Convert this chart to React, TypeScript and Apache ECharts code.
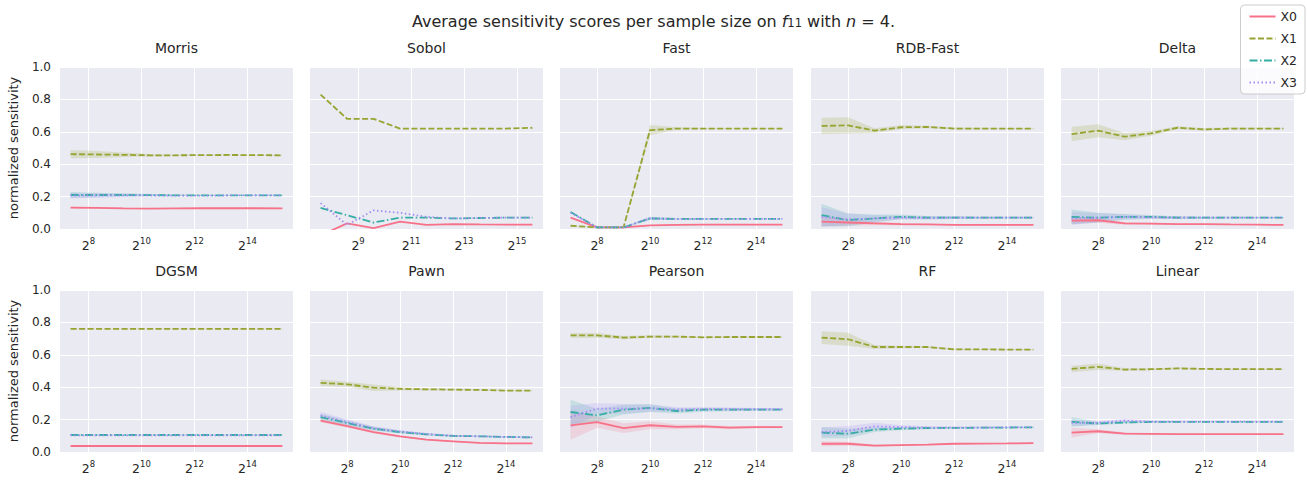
import React, { useEffect, useRef } from "react";
import * as echarts from "echarts";

// ---------- data ----------
const VARS = ["X0", "X1", "X2", "X3"];
const COLORS = ["#f77189", "#97a431", "#36ada4", "#a48cf4"];

const SIZES_STANDARD = [128, 256, 512, 1024, 2048, 4096, 8192, 16384, 32768];
const SIZES_MORRIS = [160, 320, 640, 1280, 2560, 5120, 10240, 20480, 40960];
const SIZES_SOBOL = [192, 384, 768, 1536, 3072, 6144, 12288, 24576, 49152];
const TICKS_EVEN = [8, 10, 12, 14];
const TICKS_ODD = [9, 11, 13, 15];

const METHODS = ["Morris", "Sobol", "Fast", "RDB-Fast", "Delta", "DGSM", "Pawn", "Pearson", "RF", "Linear"];

const MORRIS_MEAN = [
  [0.132, 0.13, 0.127, 0.126, 0.127, 0.128, 0.128, 0.128, 0.127],
  [0.462, 0.46, 0.458, 0.455, 0.455, 0.456, 0.457, 0.456, 0.455],
  [0.21, 0.21, 0.21, 0.209, 0.208, 0.207, 0.207, 0.208, 0.208],
  [0.206, 0.207, 0.207, 0.207, 0.206, 0.206, 0.207, 0.207, 0.207],
];
const MORRIS_CI = [
  [0.006, 0.005, 0.004, 0.003, 0.002, 0.002, 0.002, 0.002, 0.002],
  [0.026, 0.022, 0.014, 0.008, 0.005, 0.004, 0.003, 0.003, 0.003],
  [0.018, 0.014, 0.01, 0.007, 0.005, 0.004, 0.003, 0.003, 0.003],
  [0.018, 0.014, 0.01, 0.007, 0.005, 0.004, 0.003, 0.003, 0.003],
];

const SOBOL_MEAN = [
  [-0.04, 0.035, 0.005, 0.045, 0.025, 0.03, 0.028, 0.027, 0.027],
  [0.83, 0.68, 0.68, 0.62, 0.62, 0.62, 0.62, 0.62, 0.625],
  [0.13, 0.085, 0.04, 0.07, 0.07, 0.065, 0.068, 0.07, 0.07],
  [0.16, 0.025, 0.115, 0.1, 0.075, 0.065, 0.068, 0.07, 0.07],
];
const SOBOL_CI = [
  [0, 0, 0, 0, 0, 0, 0, 0, 0],
  [0, 0, 0, 0, 0, 0, 0, 0, 0],
  [0, 0, 0, 0, 0, 0, 0, 0, 0],
  [0, 0, 0, 0, 0, 0, 0, 0, 0],
];

const FAST_MEAN = [
  [0.07, 0.01, 0.01, 0.022, 0.025, 0.027, 0.027, 0.027, 0.027],
  [0.02, 0.01, 0.01, 0.61, 0.62, 0.62, 0.62, 0.62, 0.62],
  [0.105, 0.01, 0.01, 0.065, 0.062, 0.062, 0.062, 0.062, 0.062],
  [0.1, 0.01, 0.01, 0.066, 0.061, 0.062, 0.062, 0.062, 0.062],
];
const FAST_CI = [
  [0.004, 0.002, 0.002, 0.003, 0.002, 0.002, 0.002, 0.002, 0.002],
  [0.003, 0.002, 0.002, 0.032, 0.008, 0.003, 0.002, 0.002, 0.002],
  [0.005, 0.002, 0.002, 0.01, 0.004, 0.003, 0.002, 0.002, 0.002],
  [0.005, 0.002, 0.002, 0.01, 0.004, 0.003, 0.002, 0.002, 0.002],
];

const RDBFAST_MEAN = [
  [0.045, 0.04, 0.035, 0.03, 0.028, 0.026, 0.025, 0.025, 0.025],
  [0.636, 0.64, 0.607, 0.628, 0.63, 0.62, 0.62, 0.62, 0.62],
  [0.086, 0.055, 0.065, 0.075, 0.07, 0.07, 0.07, 0.07, 0.07],
  [0.075, 0.06, 0.065, 0.07, 0.068, 0.07, 0.07, 0.07, 0.07],
];
const RDBFAST_CI = [
  [0.03, 0.02, 0.012, 0.008, 0.005, 0.004, 0.003, 0.003, 0.003],
  [0.05, 0.05, 0.015, 0.012, 0.008, 0.006, 0.005, 0.004, 0.004],
  [0.07, 0.04, 0.025, 0.015, 0.01, 0.008, 0.006, 0.005, 0.005],
  [0.06, 0.035, 0.02, 0.012, 0.01, 0.008, 0.006, 0.005, 0.005],
];

const DELTA_MEAN = [
  [0.052, 0.054, 0.035, 0.033, 0.03, 0.03, 0.028, 0.027, 0.025],
  [0.586, 0.607, 0.57, 0.59, 0.625, 0.615, 0.62, 0.62, 0.62],
  [0.075, 0.07, 0.075, 0.075, 0.07, 0.07, 0.07, 0.07, 0.07],
  [0.065, 0.07, 0.075, 0.072, 0.07, 0.07, 0.07, 0.07, 0.07],
];
const DELTA_CI = [
  [0.02, 0.015, 0.008, 0.006, 0.005, 0.004, 0.003, 0.003, 0.003],
  [0.045, 0.04, 0.022, 0.015, 0.01, 0.008, 0.006, 0.005, 0.005],
  [0.045, 0.03, 0.018, 0.012, 0.008, 0.006, 0.005, 0.004, 0.004],
  [0.04, 0.028, 0.016, 0.01, 0.008, 0.006, 0.005, 0.004, 0.004],
];

const DGSM_MEAN = [
  [0.037, 0.037, 0.037, 0.037, 0.037, 0.037, 0.037, 0.037, 0.037],
  [0.76, 0.76, 0.76, 0.76, 0.76, 0.76, 0.76, 0.76, 0.76],
  [0.105, 0.105, 0.105, 0.105, 0.105, 0.105, 0.105, 0.105, 0.105],
  [0.103, 0.103, 0.103, 0.103, 0.103, 0.103, 0.103, 0.103, 0.103],
];
const DGSM_CI = [
  [0.002, 0.002, 0.002, 0.002, 0.002, 0.002, 0.002, 0.002, 0.002],
  [0.002, 0.002, 0.002, 0.002, 0.002, 0.002, 0.002, 0.002, 0.002],
  [0.003, 0.003, 0.003, 0.003, 0.003, 0.003, 0.003, 0.003, 0.003],
  [0.003, 0.003, 0.003, 0.003, 0.003, 0.003, 0.003, 0.003, 0.003],
];

const PAWN_MEAN = [
  [0.193, 0.16, 0.123, 0.097, 0.076, 0.066, 0.056, 0.053, 0.053],
  [0.427, 0.418, 0.397, 0.39, 0.387, 0.385, 0.383, 0.379, 0.379],
  [0.216, 0.179, 0.144, 0.123, 0.109, 0.099, 0.097, 0.093, 0.09],
  [0.225, 0.185, 0.147, 0.126, 0.111, 0.1, 0.097, 0.093, 0.09],
];
const PAWN_CI = [
  [0.01, 0.009, 0.008, 0.006, 0.005, 0.004, 0.003, 0.003, 0.003],
  [0.02, 0.015, 0.02, 0.01, 0.007, 0.005, 0.004, 0.004, 0.004],
  [0.02, 0.016, 0.012, 0.009, 0.007, 0.005, 0.004, 0.004, 0.004],
  [0.022, 0.017, 0.012, 0.009, 0.007, 0.005, 0.004, 0.004, 0.004],
];

const PEARSON_MEAN = [
  [0.165, 0.185, 0.148, 0.165, 0.155, 0.158, 0.15, 0.154, 0.154],
  [0.72, 0.72, 0.706, 0.712, 0.712, 0.708, 0.71, 0.71, 0.71],
  [0.247, 0.226, 0.261, 0.272, 0.253, 0.261, 0.261, 0.262, 0.262],
  [0.216, 0.268, 0.267, 0.27, 0.262, 0.265, 0.264, 0.264, 0.264],
];
const PEARSON_CI = [
  [0.09, 0.035, 0.03, 0.025, 0.015, 0.012, 0.01, 0.008, 0.006],
  [0.015, 0.015, 0.01, 0.008, 0.006, 0.005, 0.004, 0.004, 0.004],
  [0.075, 0.04, 0.03, 0.025, 0.015, 0.012, 0.01, 0.008, 0.006],
  [0.07, 0.035, 0.03, 0.022, 0.014, 0.012, 0.01, 0.008, 0.006],
];

const RF_MEAN = [
  [0.051, 0.051, 0.039, 0.043, 0.045, 0.051, 0.052, 0.053, 0.055],
  [0.706, 0.696, 0.648, 0.648, 0.648, 0.634, 0.634, 0.632, 0.632],
  [0.119, 0.113, 0.138, 0.144, 0.148, 0.149, 0.15, 0.151, 0.152],
  [0.123, 0.13, 0.158, 0.154, 0.151, 0.151, 0.151, 0.152, 0.152],
];
const RF_CI = [
  [0.015, 0.012, 0.006, 0.005, 0.004, 0.003, 0.003, 0.003, 0.003],
  [0.04, 0.04, 0.012, 0.008, 0.006, 0.005, 0.004, 0.004, 0.004],
  [0.035, 0.03, 0.015, 0.01, 0.007, 0.005, 0.004, 0.004, 0.004],
  [0.03, 0.03, 0.022, 0.012, 0.008, 0.006, 0.005, 0.004, 0.004],
];

const LINEAR_MEAN = [
  [0.12, 0.128, 0.114, 0.112, 0.11, 0.11, 0.11, 0.11, 0.11],
  [0.513, 0.526, 0.509, 0.511, 0.516, 0.513, 0.511, 0.511, 0.511],
  [0.186, 0.176, 0.182, 0.186, 0.186, 0.186, 0.186, 0.186, 0.186],
  [0.18, 0.18, 0.193, 0.188, 0.187, 0.187, 0.187, 0.187, 0.187],
];
const LINEAR_CI = [
  [0.03, 0.012, 0.008, 0.006, 0.004, 0.003, 0.003, 0.003, 0.003],
  [0.02, 0.02, 0.008, 0.006, 0.005, 0.004, 0.004, 0.004, 0.004],
  [0.03, 0.01, 0.008, 0.006, 0.004, 0.003, 0.003, 0.003, 0.003],
  [0.02, 0.01, 0.012, 0.006, 0.004, 0.003, 0.003, 0.003, 0.003],
];

// ---------- layout / style ----------
const PANELS = [
  { sizes: SIZES_MORRIS, ticks: TICKS_EVEN, mean: MORRIS_MEAN, ci: MORRIS_CI },
  { sizes: SIZES_SOBOL, ticks: TICKS_ODD, mean: SOBOL_MEAN, ci: SOBOL_CI },
  { sizes: SIZES_STANDARD, ticks: TICKS_EVEN, mean: FAST_MEAN, ci: FAST_CI },
  { sizes: SIZES_STANDARD, ticks: TICKS_EVEN, mean: RDBFAST_MEAN, ci: RDBFAST_CI },
  { sizes: SIZES_STANDARD, ticks: TICKS_EVEN, mean: DELTA_MEAN, ci: DELTA_CI },
  { sizes: SIZES_MORRIS, ticks: TICKS_EVEN, mean: DGSM_MEAN, ci: DGSM_CI },
  { sizes: SIZES_STANDARD, ticks: TICKS_EVEN, mean: PAWN_MEAN, ci: PAWN_CI },
  { sizes: SIZES_STANDARD, ticks: TICKS_EVEN, mean: PEARSON_MEAN, ci: PEARSON_CI },
  { sizes: SIZES_STANDARD, ticks: TICKS_EVEN, mean: RF_MEAN, ci: RF_CI },
  { sizes: SIZES_STANDARD, ticks: TICKS_EVEN, mean: LINEAR_MEAN, ci: LINEAR_CI },
];

const COL_LEFT = [60, 310, 560, 811, 1061];
const ROW_TOP = [67, 290];
const PANEL_W = 233;
const PANEL_H = 162;
const TEXT = "#262626";
const FONT = "DejaVu Sans";
const DASHES: any[] = ["solid", [6, 2.5], [8, 2.5, 1.5, 2.5], [1.5, 2.5]];

function hexToRgba(hex: string, a: number) {
  const r = parseInt(hex.slice(1, 3), 16);
  const g = parseInt(hex.slice(3, 5), 16);
  const b = parseInt(hex.slice(5, 7), 16);
  return `rgba(${r},${g},${b},${a})`;
}

function buildOption() {
  const grid: any[] = [];
  const xAxis: any[] = [];
  const yAxis: any[] = [];
  const series: any[] = [];
  const graphic: any[] = [];

  PANELS.forEach((panel, p) => {
    const col = p % 5;
    const row = Math.floor(p / 5);
    const left = COL_LEFT[col];
    const top = ROW_TOP[row];
    grid.push({
      left,
      top,
      width: PANEL_W,
      height: PANEL_H,
      show: true,
      backgroundColor: "#EAEAF2",
      borderWidth: 0,
      containLabel: false,
    });
    const xs = panel.sizes.map((s) => Math.log2(s));
    const lo = xs[0];
    const hi = xs[xs.length - 1];
    const pad = (hi - lo) * 0.05;
    xAxis.push({
      type: "value",
      gridIndex: p,
      min: lo - pad,
      max: hi + pad,
      axisLine: { show: false },
      axisTick: { show: false, customValues: panel.ticks },
      axisLabel: {
        customValues: panel.ticks,
        margin: 7,
        color: TEXT,
        formatter: (v: number) => `{b|2}{s|${Math.round(v)}}`,
        rich: {
          b: { fontSize: 12.5, fontFamily: FONT, color: TEXT, lineHeight: 16, verticalAlign: "bottom" },
          s: { fontSize: 8.5, fontFamily: FONT, color: TEXT, lineHeight: 10, verticalAlign: "top" },
        },
      },
      splitLine: { show: true, lineStyle: { color: "#ffffff", width: 1 } },
    });
    yAxis.push({
      type: "value",
      gridIndex: p,
      min: 0,
      max: 1,
      interval: 0.2,
      axisLine: { show: false },
      axisTick: { show: false },
      axisLabel: {
        show: col === 0,
        formatter: (v: number) => v.toFixed(1),
        fontSize: 12,
        fontFamily: FONT,
        color: TEXT,
        margin: 9,
      },
      splitLine: { show: true, lineStyle: { color: "#ffffff", width: 1 } },
      name: col === 0 ? "normalized sensitivity" : "",
      nameLocation: "middle",
      nameGap: 40,
      nameTextStyle: { fontSize: 13, fontFamily: FONT, color: TEXT },
    });

    graphic.push({
      type: "text",
      x: left + PANEL_W / 2,
      y: top - 19,
      silent: true,
      style: {
        text: METHODS[p],
        fill: TEXT,
        font: `14px '${FONT}'`,
        align: "center",
        verticalAlign: "middle",
        textAlign: "center",
        textVerticalAlign: "middle",
      },
    });

    VARS.forEach((name, v) => {
      const mean = panel.mean[v];
      const ci = panel.ci[v];
      const upper = mean.map((m, i) => m + ci[i]);
      const lower = mean.map((m, i) => m - ci[i]);
      const fill = hexToRgba(COLORS[v], 0.2);
      series.push({
        type: "custom",
        xAxisIndex: p,
        yAxisIndex: p,
        silent: true,
        clip: true,
        z: 2,
        data: [[xs[0], mean[0]]],
        renderItem: (_params: any, api: any) => {
          const pts: number[][] = [];
          xs.forEach((x, i) => pts.push(api.coord([x, upper[i]])));
          for (let i = xs.length - 1; i >= 0; i--) pts.push(api.coord([xs[i], lower[i]]));
          return {
            type: "polygon",
            shape: { points: pts },
            style: { fill, stroke: "none" },
          };
        },
      });
      series.push({
        type: "line",
        name,
        xAxisIndex: p,
        yAxisIndex: p,
        data: xs.map((x, i) => [x, mean[i]]),
        showSymbol: false,
        symbol: "none",
        silent: true,
        clip: true,
        z: 3 + v,
        itemStyle: { color: COLORS[v] },
        lineStyle: { color: COLORS[v], width: 1.8, type: DASHES[v] },
      });
    });
  });

  return {
    animation: false,
    backgroundColor: "#ffffff",
    textStyle: { fontFamily: FONT, color: TEXT },
    title: {
      left: "center",
      top: 2,
      text: "{a|Average sensitivity scores per sample size on }{i|f}{s|11}{a| with }{i|n}{a| = 4.}",
      textStyle: {
        fontWeight: "normal",
        rich: {
          a: { fontSize: 16, fontWeight: "normal", fontFamily: FONT, color: TEXT, lineHeight: 22, verticalAlign: "bottom" },
          i: { fontSize: 16, fontWeight: "normal", fontFamily: FONT, fontStyle: "italic", color: TEXT, lineHeight: 22, verticalAlign: "bottom" },
          s: { fontSize: 11.5, fontWeight: "normal", fontFamily: FONT, color: TEXT, lineHeight: 11, verticalAlign: "bottom" },
        },
      },
    },
    legend: {
      data: VARS,
      orient: "vertical",
      right: 2,
      top: 5,
      itemWidth: 26,
      itemHeight: 10,
      itemGap: 9,
      padding: [5, 8, 5, 8],
      backgroundColor: "rgba(255,255,255,0.8)",
      borderColor: "#cccccc",
      borderWidth: 1,
      borderRadius: 4,
      itemStyle: { opacity: 0 },
      textStyle: { fontSize: 12.5, fontFamily: FONT, color: TEXT },
      selectedMode: false,
    },
    grid,
    xAxis,
    yAxis,
    series,
    graphic,
  };
}

export default function App() {
  const ref = useRef<HTMLDivElement>(null);
  useEffect(() => {
    document.body.style.margin = "0";
    if (!ref.current) return;
    const chart = echarts.init(ref.current, null, { renderer: "svg" });
    chart.setOption(buildOption() as any);
    return () => chart.dispose();
  }, []);
  return <div ref={ref} style={{ width: 1307, height: 480 }} />;
}
